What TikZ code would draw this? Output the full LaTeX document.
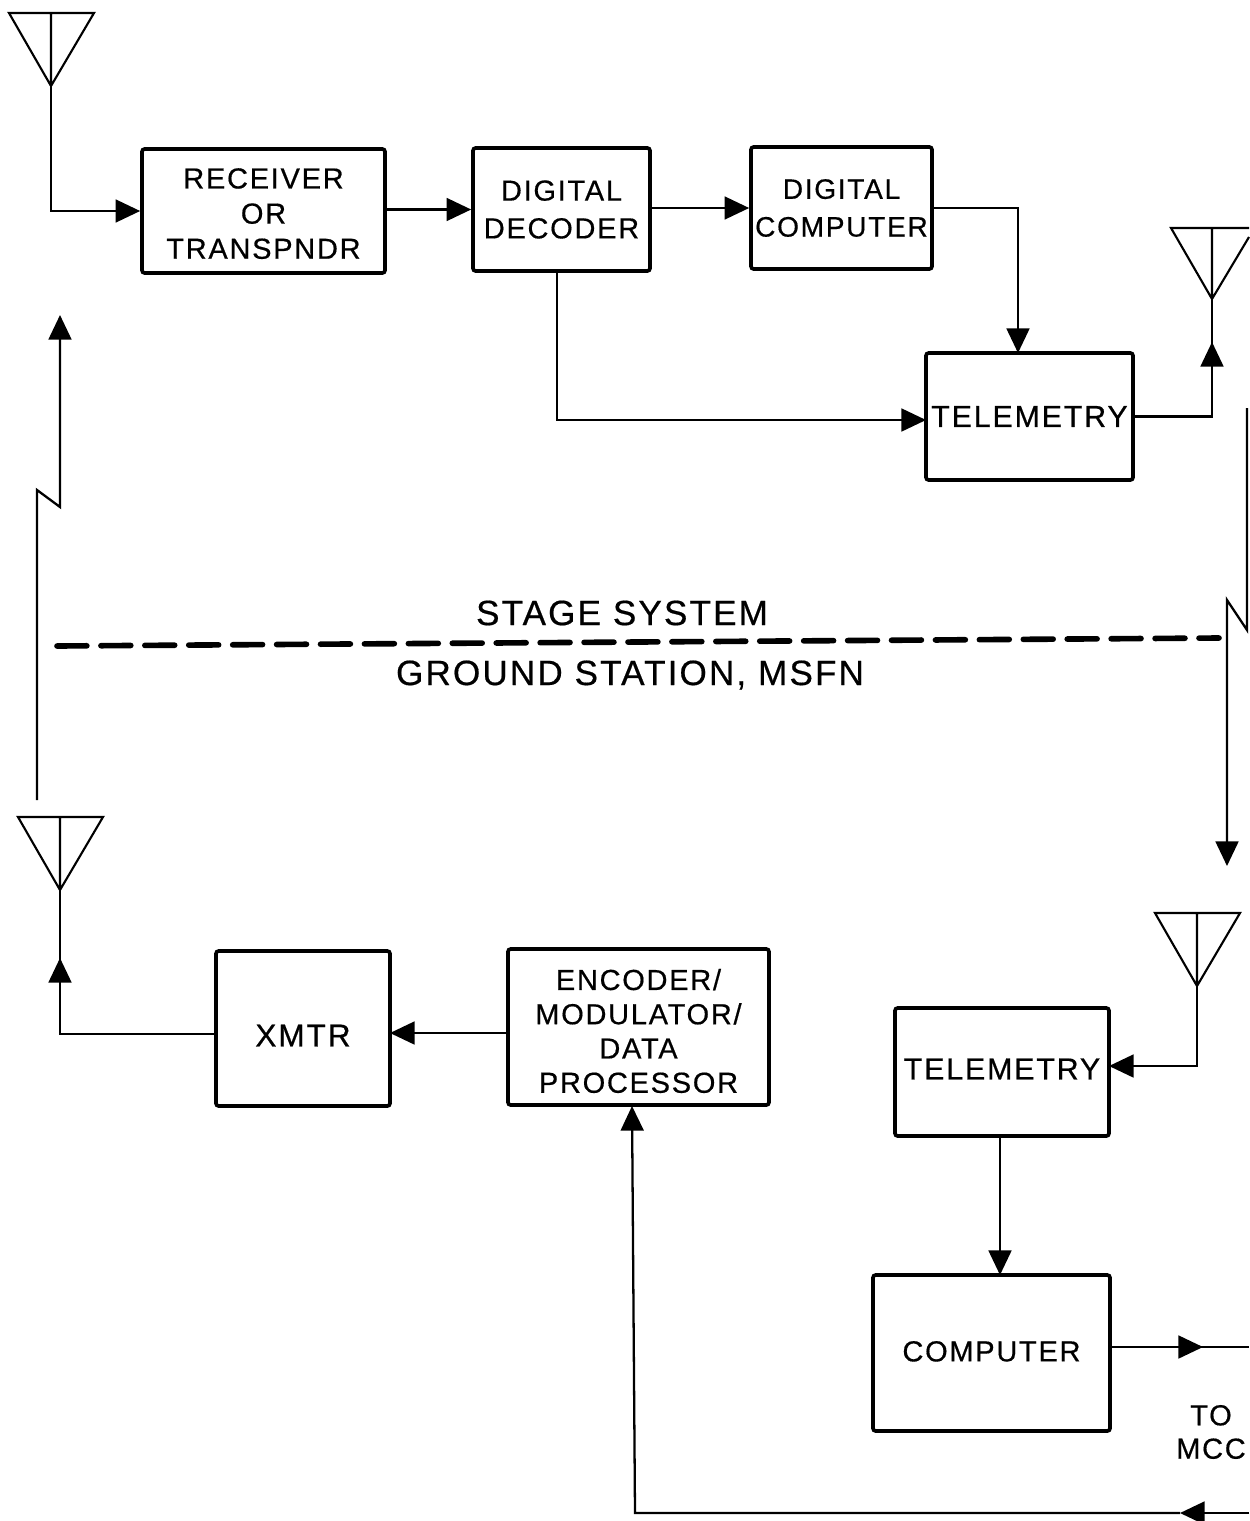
\documentclass[tikz,border=0pt]{standalone}
\usepackage{fontspec}
\setmainfont[LetterSpace=6,FakeBold=0.5]{Liberation Sans}
\usetikzlibrary{arrows.meta}

\begin{document}
\begin{tikzpicture}[
  x=0.02cm,y=-0.02cm,
  box/.style={draw,line width=2.1pt,rounded corners=1.5pt,minimum width=#1,align=center,inner sep=0pt,font=\fontsize{16.5}{20}\selectfont},
  flow/.style={-{Triangle[length=14pt,width=13pt]},line width=1.3pt},
  wire/.style={line width=1.3pt},
  antenna/.style={line width=1.2pt,line join=miter},
  caption/.style={font=\fontsize{20}{20}\selectfont,inner sep=0pt,align=center}
]
\useasboundingbox (0,0) rectangle (1249,1521);
% stage system
\node[box=4.86cm,minimum height=2.48cm] (recv) at (263.5,211) {\rule{0pt}{14.5pt}RECEIVER\\OR\\TRANSPNDR};
\node[box=3.54cm,minimum height=2.46cm,font=\fontsize{16.5}{21.5}\selectfont] (decoder) at (561.5,209.5) {DIGITAL\\DECODER};
\node[box=3.62cm,minimum height=2.44cm,font=\fontsize{16}{21.5}\selectfont] (digcomp) at (841.5,208) {DIGITAL\\COMPUTER};
\node[box=4.14cm,minimum height=2.54cm,font=\fontsize{17.3}{20}\selectfont] (telem) at (1029.5,416.5) {TELEMETRY};
% ground station
\node[box=3.48cm,minimum height=3.10cm,font=\fontsize{18}{20}\selectfont] (xmtr) at (303,1028.5) {\rule{0pt}{20.4pt}XMTR};
\node[box=5.22cm,minimum height=3.12cm,font=\fontsize{16.5}{19.5}\selectfont] (encoder) at (638.5,1027) {\rule{0pt}{16.5pt}ENCODER/\\MODULATOR/\\DATA\\PROCESSOR};
\node[box=4.28cm,minimum height=2.56cm,font=\fontsize{17.3}{20}\selectfont] (gtelem) at (1002,1072) {\raisebox{3.4pt}{TELEMETRY}};
\node[box=4.74cm,minimum height=3.12cm] (gcomp) at (991.5,1353) {\raisebox{2pt}{COMPUTER}};
% antennas
\foreach \n/\x/\y in {rx/51/13,gtx/60/817,grx/1197/913}{
  \draw[antenna] ({\x-42},\y) -- ({\x+43},\y) -- (\x,\y+73) -- cycle (\x,\y) -- (\x,\y+73);
  \coordinate (\n) at (\x,\y+73);
}
\draw[antenna] (1249,228) -- (1171,228) -- (1212,299) -- (1249,237) (1212,228) -- (1212,299);
\coordinate (tx) at (1212,299);
% stage connectors
\draw[flow] (rx) |- (recv.west);
\draw[flow] (recv.east |- decoder.west) -- (decoder.west);
\draw[flow] (decoder.east |- digcomp.west) -- (digcomp.west);
\coordinate (telemtop) at (1018,353);
\draw[flow] (digcomp.east) -| (telemtop);
\coordinate (decbot) at (557,271);
\coordinate (telemleft) at (926,420);
\draw[flow] (decbot) |- (telemleft);
\coordinate (txarrow) at (1212,342);
\draw[wire] (telem.east) -| (tx);
\draw[flow] (1212,368) -- (txarrow);
% radio links
\coordinate (upend) at (60,315);
\draw[flow,line join=miter] (37,800) -- (37,490) -- (60,507) -- (upend);
\coordinate (downend) at (1227,866);
\draw[flow,line join=miter] (1247,408) -- (1247,630) -- (1227,600) -- (downend);
% divider
\coordinate (divleft) at (57,646);
\coordinate (divright) at (1219,638);
\draw[line width=3.2pt,line cap=round,dash pattern=on 17pt off 8pt] (divleft) -- (divright);
\node[caption] (stage) at (622,613) {STAGE SYSTEM};
\node[caption] (ground) at (630,675) {GROUND STATION, MSFN};
% ground connectors
\coordinate (encleft) at (508,1033);
\coordinate (xmtrright) at (390,1033);
\draw[flow] (encleft) -- (xmtrright);
\coordinate (xmtrleft) at (216,1034);
\coordinate (gtxarrow) at (60,958);
\draw[wire] (xmtrleft) -| (gtx);
\draw[flow] (60,985) -- (gtxarrow);
\coordinate (gtelemright) at (1109,1066);
\draw[flow] (grx) |- (gtelemright);
\coordinate (gtelembot) at (1000,1136);
\coordinate (gcomptop) at (1000,1275);
\draw[flow] (gtelembot) -- (gcomptop);
\coordinate (mccout) at (1249,1347);
\coordinate (mccarrow) at (1203,1347);
\coordinate (gcompright) at (1110,1347);
\draw[wire] (gcompright) -- (mccout);
\draw[flow] (1175,1347) -- (mccarrow);
\node[caption,font=\fontsize{16.5}{19}\selectfont] (mcc) at (1211,1432) {TO\\MCC};
\coordinate (mccin) at (1249,1513);
\coordinate (retarrow) at (1180,1513);
\coordinate (retcorner) at (635,1513);
\coordinate (encbot) at (632,1106);
\draw[flow] (mccin) -- (retarrow);
\draw[flow] (retarrow) -- (retcorner) -- (encbot);
\end{tikzpicture}
\end{document}
